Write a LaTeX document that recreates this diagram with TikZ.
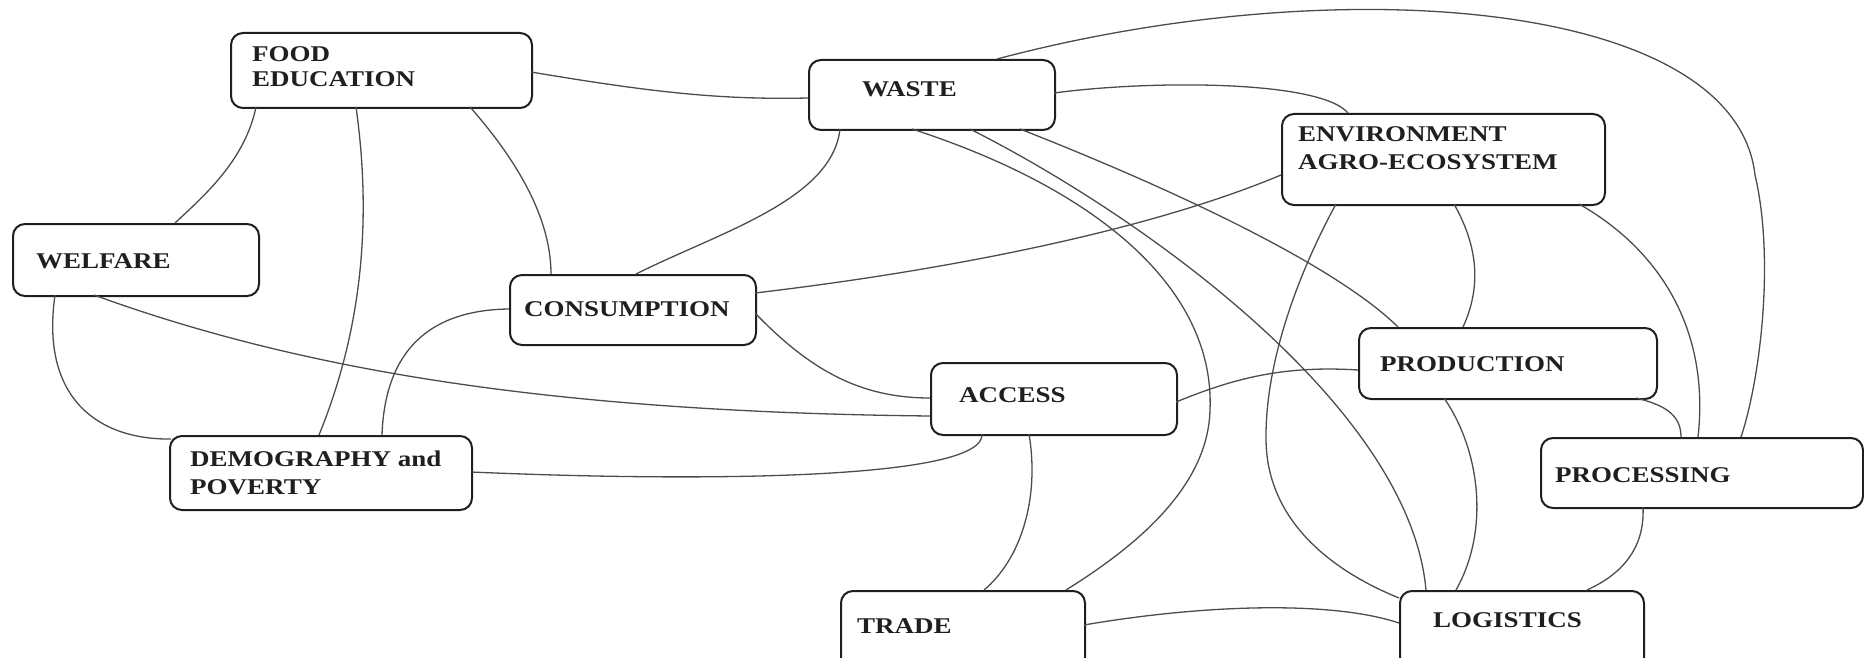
\documentclass[tikz,border=0pt]{standalone}
\usepackage{fontspec}
\setmainfont{Liberation Serif}[FakeStretch=1.2]
\begin{document}
\begin{tikzpicture}[x=1pt,y=-1pt,
  box/.style={draw=black!88, line width=2pt, rounded corners=12pt, rectangle, inner sep=0pt, anchor=north west},
  lbl/.style={font=\fontsize{22.5}{27}\selectfont\bfseries, text=black!88, anchor=base west, inner sep=0pt},
  link/.style={draw=black!70, line width=1.3pt}]
\useasboundingbox (0,0) rectangle (1864,658);
% boxes
\node[box, minimum width=301pt, minimum height=75pt] (food) at (230,32) {};
\node[box, minimum width=246pt, minimum height=70pt] (waste) at (808,59) {};
\node[box, minimum width=323pt, minimum height=91pt] (env) at (1281,113) {};
\node[box, minimum width=246pt, minimum height=72pt] (welfare) at (12,223) {};
\node[box, minimum width=246pt, minimum height=70pt] (cons) at (509,274) {};
\node[box, minimum width=246pt, minimum height=72pt] (access) at (930,362) {};
\node[box, minimum width=298pt, minimum height=71pt] (prod) at (1358,327) {};
\node[box, minimum width=322pt, minimum height=70pt] (proc) at (1540,437) {};
\node[box, minimum width=302pt, minimum height=74pt] (demo) at (169,435) {};
\node[box, minimum width=244pt, minimum height=90pt] (trade) at (840,590) {};
\node[box, minimum width=244pt, minimum height=90pt] (logi) at (1399,590) {};
% labels
\node[lbl] (foodA) at (252,62) {FOOD};
\node[lbl] (foodB) at (252,87) {EDUCATION};
\node[lbl] (wasteT) at (862,97) {WASTE};
\node[lbl] (envA) at (1298,142) {ENVIRONMENT};
\node[lbl] (envB) at (1298,170) {AGRO-ECOSYSTEM};
\node[lbl] (welfareT) at (36,268) {WELFARE};
\node[lbl] (consT) at (524,316) {CONSUMPTION};
\node[lbl] (accessT) at (959,402) {ACCESS};
\node[lbl] (prodT) at (1380,371) {PRODUCTION};
\node[lbl] (procT) at (1555,482) {PROCESSING};
\node[lbl] (demoA) at (190,466) {DEMOGRAPHY and};
\node[lbl] (demoB) at (190,494) {POVERTY};
\node[lbl] (tradeT) at (857,633) {TRADE};
\node[lbl] (logiT) at (1433,627) {LOGISTICS};
% connectors
\path[link] ([shift={(301,40)}]food.north west) .. controls (650,92) and (720,100) .. ([shift={(0,39)}]waste.north west);
\path[link] ([shift={(26,75)}]food.north west) .. controls (245,160) and (205,195) .. ([shift={(163,0)}]welfare.north west);
\path[link] ([shift={(126,75)}]food.north west) .. controls (372,220) and (362,330) .. ([shift={(150,0)}]demo.north west);
\path[link] ([shift={(240,75)}]food.north west) .. controls (530,175) and (551,230) .. ([shift={(42,0)}]cons.north west);
\path[link] ([shift={(43,72)}]welfare.north west) .. controls (40,400) and (100,440) .. ([shift={(2,4)}]demo.north west);
\path[link] ([shift={(82,72)}]welfare.north west) .. controls (300,370) and (550,412) .. ([shift={(0,54)}]access.north west);
\path[link] ([shift={(32,70)}]waste.north west) .. controls (832,200) and (720,232) .. ([shift={(127,0)}]cons.north west);
\path[link] ([shift={(246,34)}]waste.north west) .. controls (1150,80) and (1320,80) .. ([shift={(67,0)}]env.north west);
\path[link] ([shift={(189,0)}]waste.north west) .. controls (1340,-32) and (1735,0) .. (1755,175) .. controls (1775,260) and (1760,380) .. ([shift={(201,0)}]proc.north west);
\path[link] ([shift={(104,70)}]waste.north west) .. controls (1100,190) and (1215,290) .. (1210,410) .. controls (1208,490) and (1130,550) .. ([shift={(226,0)}]trade.north west);
\path[link] ([shift={(162,70)}]waste.north west) .. controls (1150,220) and (1410,410) .. ([shift={(27,0)}]logi.north west);
\path[link] ([shift={(212,70)}]waste.north west) .. controls (1150,180) and (1330,260) .. ([shift={(40,0)}]prod.north west);
\path[link] ([shift={(55,91)}]env.north west) .. controls (1300,270) and (1265,360) .. (1266,440) .. controls (1267,520) and (1330,570) .. ([shift={(0,8)}]logi.north west);
\path[link] ([shift={(173,91)}]env.north west) .. controls (1480,250) and (1480,290) .. ([shift={(105,0)}]prod.north west);
\path[link] ([shift={(298,91)}]env.north west) .. controls (1660,250) and (1710,330) .. ([shift={(158,0)}]proc.north west);
\path[link] ([shift={(278,71)}]prod.north west) .. controls (1665,405) and (1681,415) .. ([shift={(141,0)}]proc.north west);
\path[link] ([shift={(86,71)}]prod.north west) .. controls (1480,450) and (1490,530) .. ([shift={(57,0)}]logi.north west);
\path[link] ([shift={(103,70)}]proc.north west) .. controls (1645,550) and (1620,575) .. ([shift={(188,0)}]logi.north west);
\path[link] ([shift={(244,35)}]trade.north west) .. controls (1200,605) and (1330,600) .. ([shift={(0,33)}]logi.north west);
\path[link] ([shift={(246,40)}]access.north west) .. controls (1230,380) and (1280,365) .. ([shift={(0,43)}]prod.north west);
\path[link] ([shift={(99,72)}]access.north west) .. controls (1040,500) and (1020,560) .. ([shift={(144,0)}]trade.north west);
\path[link] ([shift={(52,72)}]access.north west) .. controls (985,480) and (700,482) .. ([shift={(302,37)}]demo.north west);
\path[link] ([shift={(246,39)}]cons.north west) .. controls (810,370) and (860,398) .. ([shift={(0,36)}]access.north west);
\path[link] ([shift={(246,19)}]cons.north west) .. controls (950,270) and (1150,230) .. ([shift={(0,62)}]env.north west);
\path[link] ([shift={(0,35)}]cons.north west) .. controls (430,310) and (385,350) .. ([shift={(213,0)}]demo.north west);
\end{tikzpicture}
\end{document}
